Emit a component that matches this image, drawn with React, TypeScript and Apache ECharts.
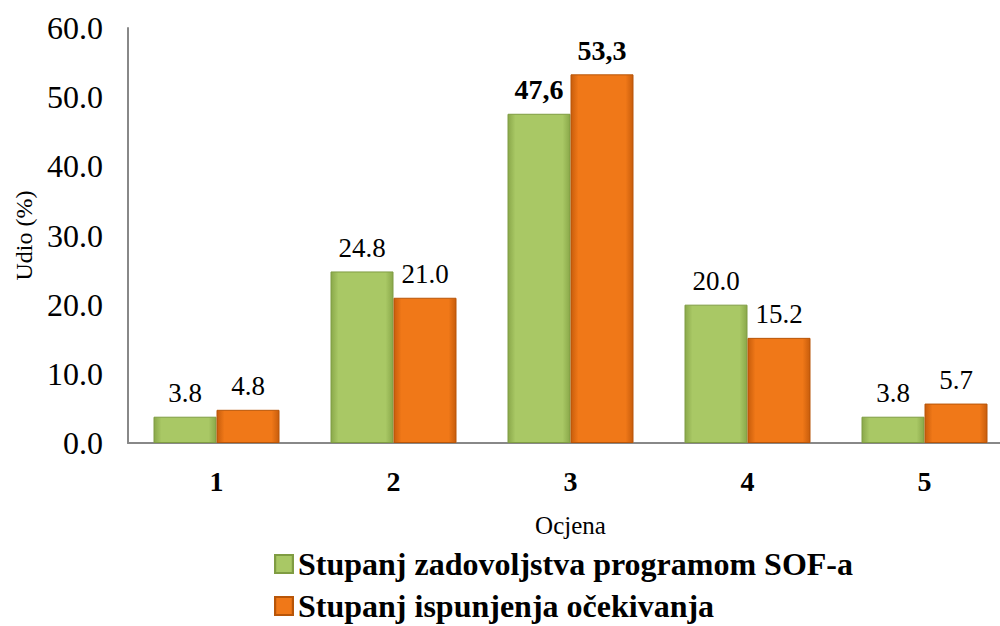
import React, { useEffect, useRef } from "react";
import * as echarts from "echarts";

const categories = ["1", "2", "3", "4", "5"];
const seriesNames = ["Stupanj zadovoljstva programom SOF-a", "Stupanj ispunjenja očekivanja"];
const satisfaction = [3.8, 24.8, 47.6, 20.0, 3.8];
const fulfilment = [4.8, 21.0, 53.3, 15.2, 5.7];
const satisfactionLabels = ["3.8", "24.8", "47,6", "20.0", "3.8"];
const fulfilmentLabels = ["4.8", "21.0", "53,3", "15.2", "5.7"];
const boldIndex = 2;

const FONT = "Liberation Serif";

function grad(edge: string, mid: string) {
  return new echarts.graphic.LinearGradient(0, 0, 1, 0, [
    { offset: 0, color: edge },
    { offset: 0.12, color: mid },
    { offset: 0.88, color: mid },
    { offset: 1, color: edge },
  ]);
}

function buildData(values: number[], labels: string[]) {
  return values.map((v, i) => ({
    value: v,
    label: {
      formatter: labels[i],
      fontWeight: i === boldIndex ? "bold" : "normal",
      fontSize: i === boldIndex ? 28 : 27,
    },
  }));
}

const legendText = { fontFamily: FONT, fontSize: 32, fontWeight: "bold", color: "#000" };

export default function App() {
  const ref = useRef<HTMLDivElement>(null);
  useEffect(() => {
    if (!ref.current) return;
    const chart = echarts.init(ref.current, undefined, { renderer: "svg" });
    chart.setOption({
      animation: false,
      textStyle: { fontFamily: FONT },
      grid: { left: 128, width: 885, top: 28, bottom: 183, outerBoundsMode: "none", containLabel: false },
      legend: [
        {
          left: 274,
          top: 548,
          itemWidth: 18,
          itemHeight: 18,
          itemGap: 6,
          icon: "rect",
          padding: 0,
          textStyle: legendText,
          data: [seriesNames[0]],
        },
        {
          left: 274,
          top: 590,
          itemWidth: 18,
          itemHeight: 18,
          itemGap: 6,
          icon: "rect",
          padding: 0,
          textStyle: legendText,
          data: [seriesNames[1]],
        },
      ],
      xAxis: {
        type: "category",
        data: categories,
        name: "Ocjena",
        nameLocation: "middle",
        nameGap: 70,
        nameTextStyle: { fontFamily: FONT, fontSize: 25, color: "#000" },
        axisLine: { lineStyle: { color: "#888", width: 2 } },
        axisTick: { show: false },
        axisLabel: { fontFamily: FONT, fontSize: 28, fontWeight: "bold", color: "#000", margin: 24 },
      },
      yAxis: {
        type: "value",
        min: 0,
        max: 60,
        interval: 10,
        name: "Udio (%)",
        nameLocation: "middle",
        nameRotate: 90,
        nameGap: 92,
        nameTextStyle: { fontFamily: FONT, fontSize: 24, color: "#000" },
        axisLine: { show: true, lineStyle: { color: "#888", width: 2 } },
        axisTick: { show: false },
        splitLine: { show: false },
        axisLabel: {
          fontFamily: FONT,
          fontSize: 32,
          color: "#000",
          margin: 25,
          formatter: (v: number) => v.toFixed(1),
        },
      },
      series: [
        {
          name: seriesNames[0],
          type: "bar",
          barWidth: 63,
          barGap: "0%",
          data: buildData(satisfaction, satisfactionLabels),
          itemStyle: { color: grad("#8aa84a", "#a9c865"), borderColor: "#7f9c42", borderWidth: 1 },
          label: { show: true, position: "top", distance: 10, color: "#000", fontFamily: FONT },
        },
        {
          name: seriesNames[1],
          type: "bar",
          barWidth: 63,
          barGap: "0%",
          data: buildData(fulfilment, fulfilmentLabels),
          itemStyle: { color: grad("#c85d0c", "#f07818"), borderColor: "#b85508", borderWidth: 1 },
          label: { show: true, position: "top", distance: 10, color: "#000", fontFamily: FONT },
        },
      ],
    });
    return () => chart.dispose();
  }, []);
  return (
    <div
      ref={ref}
      style={{ position: "absolute", left: 0, top: 0, width: 1000, height: 626, background: "#fff" }}
    />
  );
}
